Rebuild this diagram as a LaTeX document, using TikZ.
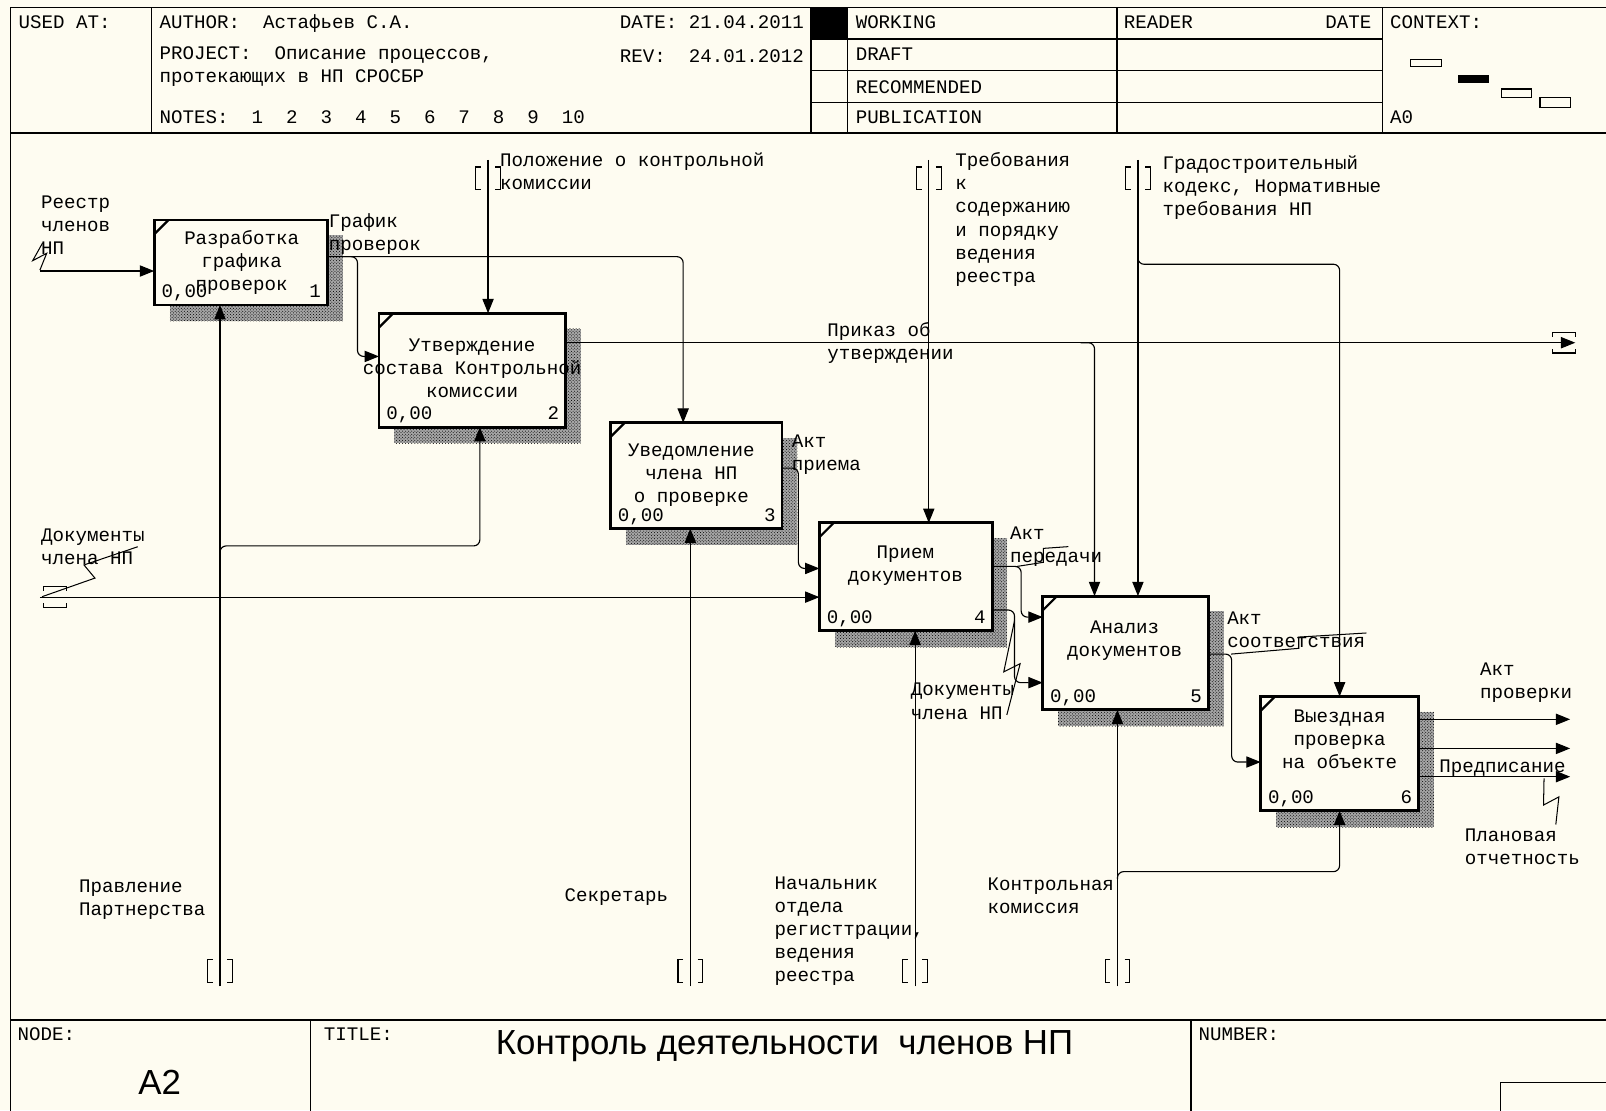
\documentclass[tikz,border=0pt]{standalone}
\usepackage{fontspec}
\newfontfamily\monofont{Liberation Mono}
\newfontfamily\arialfont{Liberation Sans}
\usepackage{tikz}
\usetikzlibrary{arrows.meta,patterns}
\definecolor{paper}{RGB}{254,252,241}
\def\vtun(#1,#2){\draw[tun] (#1-7,#2-11) -- (#1-12,#2-11) -- (#1-12,#2+11) -- (#1-7,#2+11) (#1+7,#2-11) -- (#1+12,#2-11) -- (#1+12,#2+11) -- (#1+7,#2+11);}
\def\htun(#1,#2){\draw[tun] (#1-11,#2-6) -- (#1-11,#2-10) -- (#1+11,#2-10) -- (#1+11,#2-6) (#1-11,#2+6) -- (#1-11,#2+10) -- (#1+11,#2+10) -- (#1+11,#2+6);}
\tikzset{
	lbl/.style={font=\monofont\fontsize{18.7}{22.5}\selectfont, inner sep=0pt, align=left, anchor=north west, yshift=-4pt, execute at begin node=\strut},
	boxtxt/.style={lbl, align=center, anchor=north},
	bigtxt/.style={font=\arialfont\fontsize{34}{40}\selectfont, inner sep=0pt},
	actbox/.style={draw, line width=2.8pt, fill=paper, inner sep=0pt, outer sep=0pt},
	hatch/.style={preaction={fill=black!35}, pattern=crosshatch dots, pattern color=black},
	flow/.style={line width=1.1pt, -{Triangle[length=14pt,width=11pt]}},
	tun/.style={line width=1.1pt},
	sq/.style={line width=1pt},
	frame/.style={line width=1.4pt}
}

\begin{document}
\begin{tikzpicture}[x=1pt,y=-1pt]
			%%%%% START %%%%%
			\useasboundingbox (0,0) rectangle (1568,1084);
			\fill[paper] (0,0) rectangle (1568,1084);
			
			% frame and title blocks
			\draw[frame] (1570,7.5) -- (10.5,7.5) -- (10.5,1090);
			\draw[frame] (10.5,130) -- (1570,130);
			\draw[frame] (10.5,996) -- (1570,996);
			\foreach \xx in {148,792,827.5,1090.5,1350} \draw[frame] (\xx,7.5) -- (\xx,130);
			\foreach \yy in {38,69,100} \draw[frame] (792,\yy) -- (1350,\yy);
			\fill (792,7.5) rectangle (827.5,38);
			\draw[frame] (303,996) -- (303,1090);
			\draw[frame] (1163,996) -- (1163,1090);
			\draw[frame] (1465,1090) -- (1465,1057) -- (1570,1057);
			
			% context
			\draw[line width=1.2pt] (1377,58) rectangle (1407,65);
			\fill (1423.6,73) rectangle (1453.6,81.3);
			\draw[line width=1.2pt] (1466,87) rectangle (1495,95);
			\draw[line width=1.2pt] (1503.6,95.4) rectangle (1533,105);
			
			\node[lbl] (usedat) at (18,8) {USED AT:};
			\node[lbl] (author) at (155.7,8) {AUTHOR:~~Астафьев С.А.};
			\node[lbl] (date) at (605,8) {DATE: 21.04.2011};
			\node[lbl] (project) at (155.7,41) {PROJECT:~~Описание процессов,\\протекающих в НП СРОСБР};
			\node[lbl] (rev) at (605,41) {REV:~~24.01.2012};
			\node[lbl] (notes) at (155.7,101) {NOTES:~~1~~2~~3~~4~~5~~6~~7~~8~~9~~10};
			\node[lbl] (working) at (835.3,8) {WORKING};
			\node[lbl] (draft) at (835.3,39) {DRAFT};
			\node[lbl] (recom) at (835.3,71) {RECOMMENDED};
			\node[lbl] (public) at (835.3,101) {PUBLICATION};
			\node[lbl] (reader) at (1097,8) {READER};
			\node[lbl, anchor=north east] (rdate) at (1339.2,8) {DATE};
			\node[lbl] (context) at (1357,8) {CONTEXT:};
			\node[lbl] (azero) at (1357,101) {A0};
			
			\node[lbl] (nodelbl) at (17,996) {NODE:};
			\node[bigtxt] (nodenum) at (156,1057) {A2};
			\node[lbl] (titlelbl) at (316,996) {TITLE:};
			\node[bigtxt] (title) at (766,1021) {Контроль деятельности~~членов НП};
			\node[lbl] (numlbl) at (1170,996) {NUMBER:};
			
			% activity boxes
			\foreach \nm/\cx/\cy/\w/\h/\k in {b1/235/256.3/169/83/1, b2/461/361.4/182/111.2/2, b3/679.75/464.35/167.5/103.3/3, b4/884.3/563.15/168.6/105.3/4, b5/1098.8/637.5/161.6/111/5, b6/1307.9/735.75/154.2/111.5/6}{
				\fill[hatch] (\cx-\w/2+15,\cy-\h/2+15) rectangle (\cx+\w/2+15,\cy+\h/2+16);
				\node[actbox, minimum width=\w pt, minimum height=\h pt] (\nm) at (\cx,\cy) {};
				\draw[line width=2.2pt] ([yshift=-14pt]\nm.north west) -- ([xshift=14pt]\nm.north west);
				\node[lbl, anchor=base west] (\nm-z) at ([xshift=7pt,yshift=11pt]\nm.south west) {0,00};
				\node[lbl, anchor=base east] (\nm-n) at ([xshift=-6pt,yshift=11pt]\nm.south east) {\k};
			}
			
			\node[boxtxt] (t1) at (236,221) {Разработка\\графика\\проверок};
			\node[boxtxt] (t2) at (461,327) {Утверждение\\состава Контрольной\\комиссии};
			\node[boxtxt] (t3) at (675,429) {Уведомление\\члена НП\\о проверке};
			\node[boxtxt] (t4) at (884,529) {Прием\\документов};
			\node[boxtxt] (t5) at (1098,602) {Анализ\\документов};
			\node[boxtxt] (t6) at (1308,689) {Выездная\\проверка\\на объекте};
			
			% arrow labels
			\node[lbl] (lreestr) at (40,187) {Реестр\\членов\\НП};
			\node[lbl] (lgrafik) at (321,204) {График\\проверок};
			\node[lbl] (lpolozh) at (488,145) {Положение о контрольной\\комиссии};
			\node[lbl] (ltreb) at (932.5,145) {Требования\\к\\содержанию\\и порядку\\ведения\\реестра};
			\node[lbl] (lgrad) at (1135,148) {Градостроительный\\кодекс, Нормативные\\требования НП};
			\node[lbl] (lprikaz) at (807.5,311) {Приказ об\\утверждении};
			\node[lbl] (lpriem) at (773,420) {Акт\\приема};
			\node[lbl] (ldocs) at (40,512) {Документы\\члена НП};
			\node[lbl] (lperedachi) at (986,510) {Акт\\передачи};
			\node[lbl] (ldocs2) at (889,663) {Документы\\члена НП};
			\node[lbl] (lsootv) at (1198,593) {Акт\\соответствия};
			\node[lbl] (lprov) at (1445,643) {Акт\\проверки};
			\node[lbl] (lpredp) at (1405,734) {Предписание};
			\node[lbl] (lplan) at (1430,805) {Плановая\\отчетность};
			\node[lbl] (lpravl) at (77,855) {Правление\\Партнерства};
			\node[lbl] (lsekr) at (551,860) {Секретарь};
			\node[lbl] (lnach) at (756,852) {Начальник\\отдела\\регисттрации,\\ведения\\реестра};
			\node[lbl] (lkomis) at (964,853) {Контрольная\\комиссия};
			
			% inputs
			\coordinate (reestr) at (39,264.6);
			\draw[flow] (reestr) -- (reestr -| b1.west);
			\draw[sq] (41.7,237) -- (31.9,254.5) -- (45.6,247.3) -- (39,263.6);
			
			\coordinate (docs) at (39,583);
			\draw[flow] (docs) -- (docs -| b4.west);
			\htun(53.5,583)
			\draw[sq] (134.5,533.8) -- (82,551.6) -- (92.7,564.4) -- (41,582.6);
			
			% controls
			\foreach \xx/\nm/\bx in {476.5/polozh/b2, 906.8/treb/b4, 1111/grad/b5}{
				\coordinate (\nm) at (\xx,156);
				\draw[flow] (\nm) -- (\nm |- \bx.north);
				\vtun(\xx,174)
			}
			\draw[flow, rounded corners=6pt] (1111,246) |- (1200,258) -| (b6.north);
			
			% mechanisms
			\foreach \xx/\nm/\bx in {214.8/pravl/b1, 674/sekr/b3, 893.5/nach/b4, 1091/komis/b5}{
				\coordinate (\nm) at (\xx,963);
				\draw[flow] (\nm) -- (\nm |- \bx.south);
				\vtun(\xx,948)
			}
			\draw[flow, rounded corners=6pt] (214.8,542) |- (300,533) -| (b2.south -| 468.5,0);
			\draw[flow, rounded corners=6pt] (1091,858) |- (1200,851) -| (b6.south);
			
			% outputs
			\draw[flow, rounded corners=6pt] (b1.east |- 0,250.6) -| (b3.north -| 667,0);
			\draw[flow, rounded corners=6pt] (335,250.6) -| (349,348) -- (b2.west |- 0,348);
			
			\coordinate (prikaz) at (1538,334.6);
			\draw[flow] (b2.east |- prikaz) -- (prikaz);
			\htun(1527,334.6)
			\draw[flow, rounded corners=6pt] (1055,334.6) -| (b5.north -| 1068.6,0);
			
			\draw[flow, rounded corners=6pt] (b3.east |- 0,457) -| (779.5,555) -- (b4.west |- 0,555);
			
			\draw[flow, rounded corners=6pt] (b4.east |- 0,553) -| (997,602.5) -- (b5.west |- 0,602.5);
			\draw[sq] (993,553) -- (1018.7,549) -- (1018.7,535.4) -- (1043,533.7);
			\draw[flow, rounded corners=6pt] (b4.east |- 0,595.6) -| (990.5,666.5) -- (b5.west |- 0,666.5);
			\draw[sq] (990.5,606) -- (980,656) -- (996,648) -- (983,698);
			
			\draw[flow, rounded corners=6pt] (b5.east |- 0,638.6) -| (1202.5,744) -- (b6.west |- 0,744);
			\draw[sq] (1202,638.6) -- (1268,633) -- (1268,622) -- (1334,618);
			
			\foreach \yy/\nm in {702.3/aktpr, 730.7/predp, 758.3/plan}{
				\coordinate (\nm) at (1533,\yy);
				\draw[flow] (b6.east |- \nm) -- (\nm);
			}
			\draw[sq] (1507.5,760) -- (1507,786) -- (1522,778) -- (1519,805);
			
			%%%%% END %%%%%
\end{tikzpicture}
\end{document}
